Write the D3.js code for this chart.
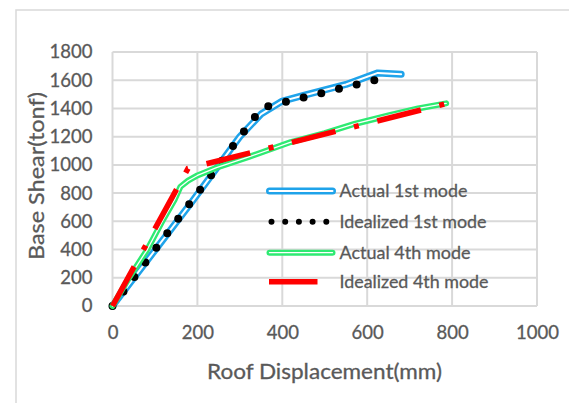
<!DOCTYPE html>
<html><head><meta charset="utf-8">
<script src="https://cdn.jsdelivr.net/npm/d3@7"></script>
<style>body{margin:0;background:#fff}svg{display:block}text{font-family:Lato,"Open Sans",sans-serif;fill:#595959;stroke:#595959;stroke-width:0.3px}</style>
</head><body>
<svg id="c" width="569" height="403"></svg>
<script>
const xTicks = [0,200,400,600,800,1000];
const yTicks = [0,200,400,600,800,1000,1200,1400,1600,1800];
const actual1st = [[0,0],[100,395],[190,750],[300,1200],[350,1360],[400,1452],[450,1492],[550,1570],[625,1652],[680,1642]];
const ideal1st = [[0,0],[352,1405],[650,1625]];
const actual4th = [[0,0],[40,205],[82,400],[119,610],[146,751],[160,845],[178,888],[200,925],[245,980],[323,1058],[420,1162],[500,1225],[570,1290],[650,1350],[720,1400],[786,1436]];
const ideal4th = [[0,0],[178,975],[785,1433]];
const seriesNames = ["Actual 1st mode","Idealized 1st mode","Actual 4th mode","Idealized 4th mode"];

const svg = d3.select("#c");
const x = d3.scaleLinear().domain([0,1000]).range([112.5,537]);
const y = d3.scaleLinear().domain([0,1800]).range([306,52]);
const grid = "#d9d9d9";

svg.append("rect").attr("x",16).attr("y",10).attr("width",700).attr("height",500)
  .attr("fill","none").attr("stroke",grid).attr("stroke-width",1.5);

// gridlines
svg.append("g").selectAll("line").data(yTicks).join("line")
  .attr("x1",x(0)).attr("x2",x(1000)).attr("y1",d=>y(d)).attr("y2",d=>y(d))
  .attr("stroke",grid).attr("stroke-width",2);
svg.append("g").selectAll("line").data(xTicks).join("line")
  .attr("y1",y(0)).attr("y2",y(1800)).attr("x1",d=>x(d)).attr("x2",d=>x(d))
  .attr("stroke",grid).attr("stroke-width",2);

// axes labels
const ya = svg.append("g").attr("transform",`translate(${x(0)},0)`)
  .call(d3.axisLeft(y).tickValues(yTicks).tickSize(0).tickPadding(20).tickFormat(d3.format("d")));
ya.select(".domain").remove();
ya.selectAll("text").attr("font-size",18.5).style("font-family","Lato").attr("fill","#595959");
const xa = svg.append("g").attr("transform",`translate(0,${y(0)})`)
  .call(d3.axisBottom(x).tickValues(xTicks).tickSize(0).tickPadding(20).tickFormat(d3.format("d")));
xa.select(".domain").remove();
xa.selectAll("text").attr("font-size",18.5).style("font-family","Lato").attr("fill","#595959");

svg.append("text").attr("x",324.5).attr("y",379).attr("text-anchor","middle").attr("font-size",21.5)
  .attr("textLength",235).attr("lengthAdjust","spacingAndGlyphs").text("Roof Displacement(mm)");
svg.append("text").attr("transform","translate(44,176) rotate(-90)").attr("text-anchor","middle").attr("font-size",21.5)
  .attr("textLength",168).attr("lengthAdjust","spacingAndGlyphs").text("Base Shear(tonf)");

const line = d3.line().x(d=>x(d[0])).y(d=>y(d[1]));
const blue = "#1fa3ea", green = "#2eea72", red = "#ff0000";

// Actual 1st
svg.append("path").attr("d",line(actual1st)).attr("fill","none").attr("stroke",blue).attr("stroke-width",7).attr("stroke-linecap","round").attr("stroke-linejoin","round");
svg.append("path").attr("d",line(actual1st)).attr("fill","none").attr("stroke","#fff").attr("stroke-width",2).attr("stroke-linecap","round").attr("stroke-linejoin","round");
// Idealized 1st
svg.append("path").attr("d",line(ideal1st)).attr("fill","none").attr("stroke","#000").attr("stroke-width",8).attr("stroke-linecap","round").attr("stroke-dasharray","0,18.2");
// Actual 4th
svg.append("path").attr("d",line(actual4th)).attr("fill","none").attr("stroke",green).attr("stroke-width",6).attr("stroke-linecap","round").attr("stroke-linejoin","round");
svg.append("path").attr("d",line(actual4th)).attr("fill","none").attr("stroke","#fff").attr("stroke-width",1.3).attr("stroke-linecap","round").attr("stroke-linejoin","round");
// Idealized 4th
svg.append("path").attr("d",line(ideal4th)).attr("fill","none").attr("stroke",red).attr("stroke-width",5.5).attr("stroke-dasharray","45,19,5,19");

// legend
const lg = svg.append("g");
const rows = [191,221.7,252.7,281.7];
const lx0 = 269.5, lx1 = 332.5;
lg.append("line").attr("x1",lx0).attr("x2",lx1).attr("y1",rows[0]).attr("y2",rows[0]).attr("stroke",blue).attr("stroke-width",7).attr("stroke-linecap","round");
lg.append("line").attr("x1",lx0).attr("x2",lx1).attr("y1",rows[0]).attr("y2",rows[0]).attr("stroke","#fff").attr("stroke-width",2).attr("stroke-linecap","round");
lg.append("line").attr("x1",271.5).attr("x2",330).attr("y1",rows[1]).attr("y2",rows[1]).attr("stroke","#000").attr("stroke-width",6).attr("stroke-linecap","round").attr("stroke-dasharray","0,13.7");
lg.append("line").attr("x1",lx0).attr("x2",lx1).attr("y1",rows[2]).attr("y2",rows[2]).attr("stroke",green).attr("stroke-width",6).attr("stroke-linecap","round");
lg.append("line").attr("x1",lx0).attr("x2",lx1).attr("y1",rows[2]).attr("y2",rows[2]).attr("stroke","#fff").attr("stroke-width",1.3).attr("stroke-linecap","round");
lg.append("line").attr("x1",269).attr("x2",317.5).attr("y1",rows[3]).attr("y2",rows[3]).attr("stroke",red).attr("stroke-width",5.5);
const legendWidths = [128,147,131,149];
lg.selectAll("text").data(seriesNames).join("text")
  .attr("x",339.5).attr("y",(d,i)=>rows[i]).attr("dy","0.35em").attr("font-size",17.5)
  .attr("textLength",(d,i)=>legendWidths[i]).attr("lengthAdjust","spacingAndGlyphs").text(d=>d);
</script>
</body></html>
